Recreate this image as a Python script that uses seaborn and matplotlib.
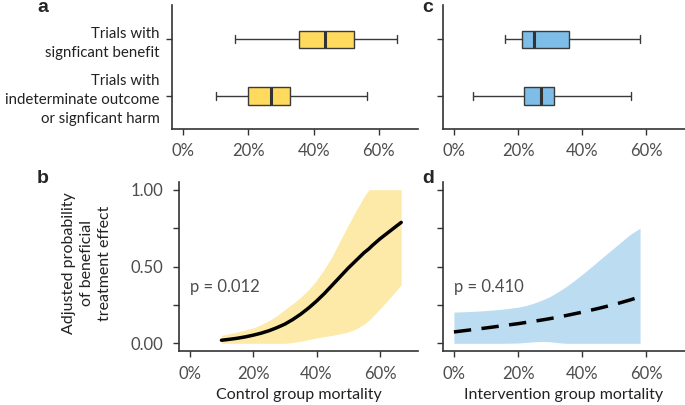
import numpy as np
import pandas as pd
import seaborn as sns
import matplotlib.pyplot as plt
from matplotlib.ticker import FuncFormatter

# box summaries (min, q1, median, q3, max), in % mortality
groups = ["Trials with\nsignficant benefit",
          "Trials with\nindeterminate outcome\nor signficant harm"]
ctrl_stats = [[16.0, 35.5, 43.5, 52.3, 65.5],
              [10.0, 19.8, 26.8, 32.8, 56.5]]
int_stats = [[16.0, 21.2, 25.0, 36.0, 58.0],
             [6.0, 21.9, 27.2, 31.2, 55.3]]

# panel b: control group mortality vs adjusted probability
ctrl_x = [10, 12.5, 15, 17.5, 20, 22.5, 25, 27.5, 30, 32.5, 35, 37.5, 40, 42.5,
          45, 47.5, 50, 52.5, 55, 56.5, 57.5, 60, 62.5, 65, 66.7]
ctrl_fit = [0.02, 0.026, 0.033, 0.042, 0.053, 0.066, 0.082, 0.102, 0.125, 0.155,
            0.19, 0.23, 0.275, 0.325, 0.38, 0.435, 0.49, 0.54, 0.59, 0.615, 0.635,
            0.68, 0.72, 0.76, 0.787]
ctrl_lo = [0.0, 0.0, 0.0, 0.0, 0.0, 0.0, 0.0, 0.0, 0.0, 0.006, 0.013, 0.024,
           0.035, 0.044, 0.052, 0.062, 0.074, 0.094, 0.125, 0.15, 0.17, 0.225,
           0.28, 0.34, 0.383]
ctrl_hi = [0.052, 0.062, 0.074, 0.087, 0.10, 0.122, 0.148, 0.18, 0.22, 0.258,
           0.30, 0.35, 0.41, 0.485, 0.57, 0.67, 0.77, 0.865, 0.955, 1.0, 1.0,
           1.0, 1.0, 1.0, 1.0]
p_ctrl = "p = 0.012"

# panel d: intervention group mortality
int_x = [0, 5, 10, 15, 20, 22.5, 25, 27.5, 30, 32.5, 35, 37.5, 40, 42.5, 45,
         47.5, 50, 52.5, 55, 58]
int_fit = [0.074, 0.087, 0.10, 0.114, 0.128, 0.136, 0.144, 0.152, 0.161, 0.171,
           0.181, 0.192, 0.203, 0.215, 0.227, 0.24, 0.253, 0.268, 0.283, 0.303]
int_lo = [0.0, 0.0, 0.0, 0.0, 0.002, 0.006, 0.01, 0.012, 0.01, 0.004, 0.0, 0.0,
          0.0, 0.0, 0.0, 0.0, 0.0, 0.0, 0.0, 0.0]
int_hi = [0.203, 0.207, 0.213, 0.222, 0.235, 0.246, 0.262, 0.282, 0.305, 0.336,
          0.37, 0.408, 0.449, 0.492, 0.536, 0.58, 0.623, 0.667, 0.71, 0.75]
p_int = "p = 0.410"

yellow, yellow_band = "#FFDA5C", "#FDEAA8"
blue, blue_band = "#7DBDE8", "#BCDCF1"

sns.set_style("ticks")
plt.rcParams["font.family"] = ["Lato", "DejaVu Sans"]
plt.rcParams["axes.edgecolor"] = "#333333"
plt.rcParams["axes.linewidth"] = 1.2
plt.rcParams["xtick.color"] = "#333333"
plt.rcParams["ytick.color"] = "#333333"
plt.rcParams["xtick.labelcolor"] = "#4D4D4D"
plt.rcParams["ytick.labelcolor"] = "#4D4D4D"

fig = plt.figure(figsize=(6.85, 4.05), dpi=100)
W, H = 685, 405


def add_ax(x0, y0, x1, y1):
    return fig.add_axes([x0 / W, 1 - y1 / H, (x1 - x0) / W, (y1 - y0) / H])


ax_a = add_ax(172, 5, 418, 129)
ax_c = add_ax(443, 5, 685, 129)
ax_b = add_ax(179, 182, 418, 351)
ax_d = add_ax(443, 182, 685, 351)

pct = FuncFormatter(lambda v, _: f"{v:.0f}%")


def long_df(stats):
    rows = []
    for g, vals in zip(groups, stats):
        for v in vals:
            rows.append({"group": g, "mortality": v})
    return pd.DataFrame(rows)


for ax, stats, col in [(ax_a, ctrl_stats, yellow), (ax_c, int_stats, blue)]:
    sns.boxplot(data=long_df(stats), x="mortality", y="group", order=groups,
                whis=(0, 100), width=0.3, color=col, saturation=1,
                linecolor="#3A3A3A", linewidth=1.0,
                medianprops={"linewidth": 2.2, "color": "#333333"}, ax=ax)
    ax.set_xlim(-3.4, 72)
    ax.set_ylim(1.58, -0.6)
    ax.set_xticks([0, 20, 40, 60])
    ax.xaxis.set_major_formatter(pct)
    ax.set_xlabel("")
    ax.set_ylabel("")
    ax.tick_params(axis="x", labelsize=12, length=4, width=1, pad=6)
    ax.tick_params(axis="y", length=4, width=1, pad=5)
    sns.despine(ax=ax)

ax_a.set_yticks([0, 1])
ax_a.set_yticklabels(groups, fontsize=10.8, color="#222222", linespacing=1.45)
ax_c.set_yticks([0, 1])
ax_c.set_yticklabels(["", ""])

for ax, x, fit, lo, hi, band, ls, ptxt, xl in [
        (ax_b, ctrl_x, ctrl_fit, ctrl_lo, ctrl_hi, yellow_band, "-", p_ctrl,
         "Control group mortality"),
        (ax_d, int_x, int_fit, int_lo, int_hi, blue_band, (0, (5, 3)), p_int,
         "Intervention group mortality")]:
    ax.fill_between(x, lo, hi, color=band, lw=0)
    sns.lineplot(x=x, y=fit, ax=ax, color="black", lw=2.5, linestyle=ls)
    ax.text(0, 0.366, ptxt, fontsize=12, color="#4D4D4D", ha="left", va="center")
    ax.set_xlim(-3.4, 72)
    ax.set_ylim(-0.05, 1.05)
    ax.set_xticks([0, 20, 40, 60])
    ax.xaxis.set_major_formatter(pct)
    ax.set_yticks([0, 0.25, 0.5, 0.75, 1.0])
    ax.set_xlabel(xl, fontsize=11.5, color="#222222", labelpad=4)
    ax.set_ylabel("")
    ax.tick_params(axis="both", labelsize=12, length=4, width=1, pad=7)
    sns.despine(ax=ax)

ax_b.set_yticklabels(["0.00", "", "0.50", "", "1.00"])
ax_d.set_yticklabels(["", "", "", "", ""])

fig.text(87 / W, 1 - 263 / H, "Adjusted probability\nof beneficial\ntreatment effect",
         rotation=90, ha="center", va="center", multialignment="center",
         fontsize=11.5, color="#222222", linespacing=1.35)

for letter, x, y in [("a", 43, 8), ("c", 428, 8), ("b", 43, 178), ("d", 428, 178)]:
    fig.text(x / W, 1 - y / H, letter, fontsize=14, fontweight="bold",
             family=["Liberation Sans", "DejaVu Sans"], ha="center", va="center")

fig.savefig("out.png", dpi=100)
